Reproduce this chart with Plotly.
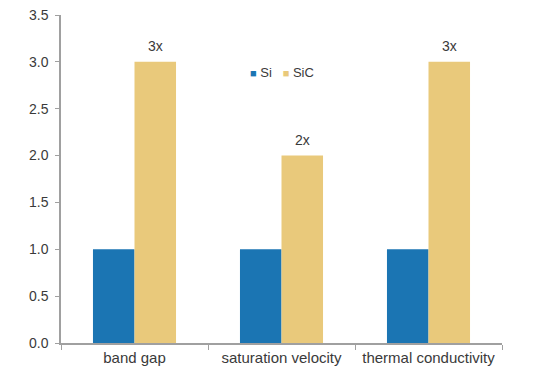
import plotly.graph_objects as go

categories = ["band gap", "saturation velocity", "thermal conductivity"]
si_values = [1.0, 1.0, 1.0]
sic_values = [3.0, 2.0, 3.0]
sic_labels = ["3x", "2x", "3x"]
y_ticks = [0.0, 0.5, 1.0, 1.5, 2.0, 2.5, 3.0, 3.5]

SI_COLOR = "#1B75B3"
SIC_COLOR = "#E9C97B"
TEXT_COLOR = "#3A3A3A"

fig = go.Figure()
fig.add_trace(go.Bar(name="Si", x=categories, y=si_values, marker_color=SI_COLOR,
                     marker_line_width=0))
fig.add_trace(go.Bar(name="SiC", x=categories, y=sic_values, marker_color=SIC_COLOR,
                     marker_line_width=0))

# value labels above SiC bars
for cat, val, lab in zip(categories, sic_values, sic_labels):
    fig.add_annotation(x=cat, y=val, text=lab, showarrow=False, xref="x", yref="y",
                       xshift=21, yshift=16, font=dict(size=14, color=TEXT_COLOR))

# compact legend
fig.add_annotation(
    xref="paper", yref="paper", x=0.50, y=0.826, xanchor="center", yanchor="middle",
    showarrow=False,
    text=(f"<span style='color:{SI_COLOR};font-size:11px'>■</span> Si&nbsp;&nbsp;&nbsp;"
          f"<span style='color:{SIC_COLOR};font-size:11px'>■</span> SiC"),
    font=dict(size=13, color=TEXT_COLOR),
)

fig.update_layout(
    width=525, height=377,
    margin=dict(l=53, r=31, t=7, b=42, autoexpand=False),
    paper_bgcolor="white", plot_bgcolor="white",
    barmode="group", bargap=0.435, bargroupgap=0,
    font=dict(family="Liberation Sans, Arial, sans-serif", size=14, color=TEXT_COLOR),
    showlegend=False,
)
fig.update_xaxes(showline=True, linecolor="#A0A0A0", linewidth=1.5, automargin=False,
                 ticks="outside", tickson="boundaries", ticklen=5, tickcolor="#A0A0A0",
                 showgrid=False, tickfont=dict(size=15, color=TEXT_COLOR))
fig.update_yaxes(range=[0, 3.5], tickvals=y_ticks, ticktext=[f"{v:.1f}" for v in y_ticks],
                 showline=True, linecolor="#A0A0A0", linewidth=1.5, automargin=False,
                 ticks="outside", ticklen=4, tickcolor="#A0A0A0",
                 ticklabeloverflow="allow", ticklabelstandoff=4,
                 showgrid=False, zeroline=False, tickfont=dict(size=14, color=TEXT_COLOR))

fig.write_html("out.html")
